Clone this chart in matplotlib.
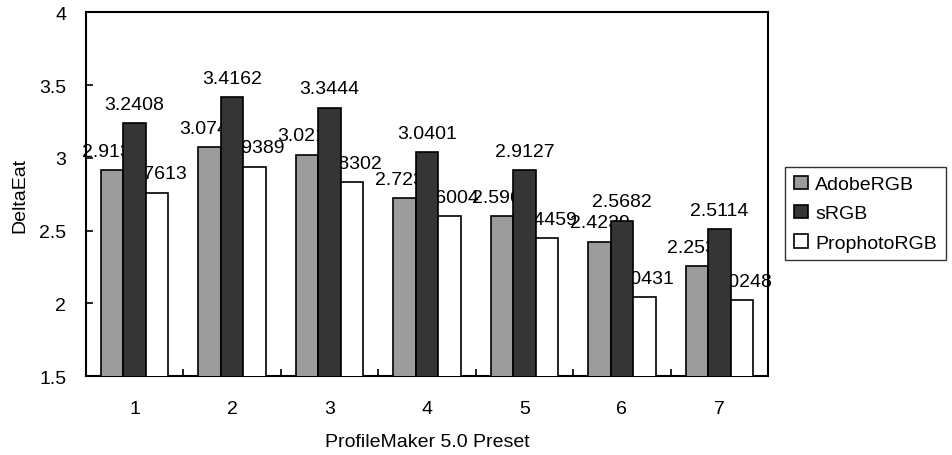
import numpy as np
import matplotlib
matplotlib.use('Agg')
import matplotlib.pyplot as plt

plt.rcParams['font.family'] = ['Liberation Sans', 'DejaVu Sans']

# Datos
presets = ['1', '2', '3', '4', '5', '6', '7']
adobe_rgb = [2.9136, 3.0745, 3.0218, 2.7239, 2.5968, 2.4239, 2.2531]
srgb = [3.2408, 3.4162, 3.3444, 3.0401, 2.9127, 2.5682, 2.5114]
prophoto_rgb = [2.7613, 2.9389, 2.8302, 2.6004, 2.4459, 2.0431, 2.0248]

series = [
    ('AdobeRGB', adobe_rgb, '#9c9c9c'),
    ('sRGB', srgb, '#353535'),
    ('ProphotoRGB', prophoto_rgb, 'white'),
]

fs = 14

fig = plt.figure(figsize=(9.53, 4.56), dpi=100)
ax = fig.add_axes([0.090, 0.173, 0.716, 0.798])

x = np.arange(len(presets))
w = 0.23

for i, (name, vals, color) in enumerate(series):
    pos = x + (i - 1) * w
    ax.bar(pos, vals, width=w, color=color, edgecolor='black',
           linewidth=1.2, label=name, zorder=3)
    # etiquetas por debajo de las barras (las barras las tapan como en el original)
    for px, v in zip(pos, vals):
        ax.text(px, v + 0.07, f'{v:.4f}', ha='center', va='bottom',
                fontsize=fs, zorder=2)

ax.set_ylim(1.5, 4)
ax.set_xlim(-0.5, len(presets) - 0.5)
ax.set_yticks([1.5, 2, 2.5, 3, 3.5, 4])
ax.set_yticklabels(['1.5', '2', '2.5', '3', '3.5', '4'])
ax.set_xticks(x)
ax.set_xticklabels(presets)
ax.set_xticks(np.arange(0.5, len(presets) - 0.5, 1), minor=True)

ax.tick_params(axis='y', direction='in', length=5, width=1.2, labelsize=fs, pad=14)
ax.tick_params(axis='x', which='major', length=0, labelsize=fs, pad=17)
ax.tick_params(axis='x', which='minor', direction='in', length=5, width=1.2)
for s in ax.spines.values():
    s.set_linewidth(1.5)

ax.set_ylabel('DeltaEat', fontsize=fs, labelpad=8)
ax.set_xlabel('ProfileMaker 5.0 Preset', fontsize=fs, labelpad=12)

leg = fig.legend(loc='upper left', bbox_to_anchor=(0.824, 0.632), borderaxespad=0,
                 fontsize=fs, frameon=True, fancybox=False, edgecolor='black',
                 handlelength=0.7, handleheight=0.7, handletextpad=0.4,
                 borderpad=0.45, labelspacing=0.6)
leg.get_frame().set_linewidth(1.0)

fig.savefig('out.png', dpi=100)
